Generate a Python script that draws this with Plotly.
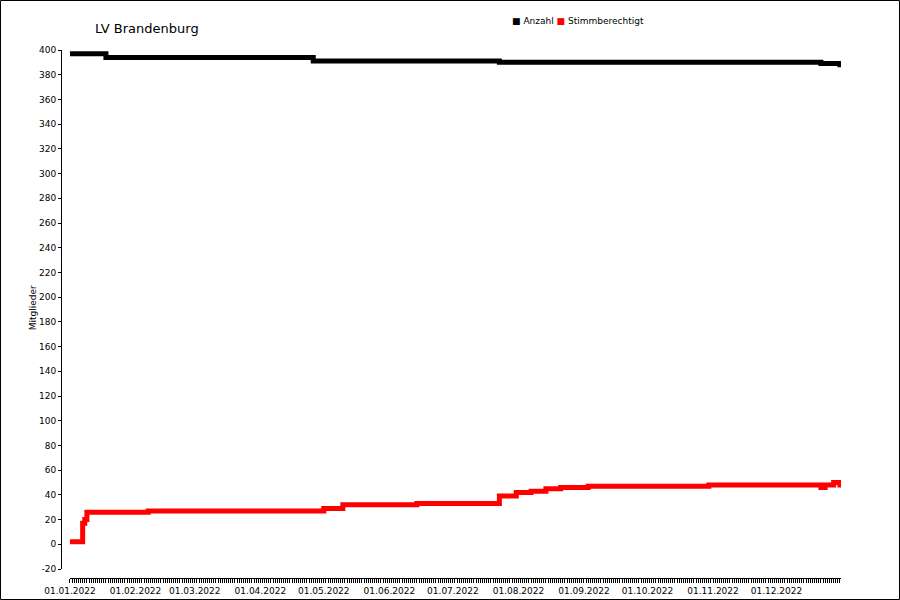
import plotly.graph_objects as go

# Anzahl (Mitglieder gesamt) - Stufen ab Datum
anzahl_dates = ["2022-01-01", "2022-01-18", "2022-04-26", "2022-07-23",
                "2022-12-22", "2022-12-30", "2022-12-31"]
anzahl_vals = [397, 394, 391, 390, 389, 389, 386]

# Stimmberechtigt
stimm_dates = ["2022-01-01", "2022-01-06", "2022-01-07", "2022-01-08", "2022-01-09",
               "2022-02-07", "2022-05-01", "2022-05-10", "2022-06-14", "2022-07-23",
               "2022-07-31", "2022-08-07", "2022-08-14", "2022-08-21", "2022-09-03",
               "2022-10-30", "2022-12-22", "2022-12-24", "2022-12-28", "2022-12-31"]
stimm_vals = [2, 2, 17, 20, 26,
              27, 29, 32, 33, 39,
              42, 43, 45, 46, 47,
              48, 46, 48, 50, 46]

series_names = ["Anzahl", "Stimmberechtigt"]
series_colors = ["black", "red"]

# y-Achse: -20 bis 400 in 20er Schritten (mit normalem Bindestrich)
y_ticks = list(range(-20, 401, 20))
y_ticktext = [str(v) for v in y_ticks]

font = "DejaVu Sans"

fig = go.Figure()
fig.add_trace(go.Scatter(x=anzahl_dates, y=anzahl_vals, mode="lines", line_shape="hv",
                         name=series_names[0], showlegend=False,
                         line=dict(color=series_colors[0], width=5)))
fig.add_trace(go.Scatter(x=stimm_dates, y=stimm_vals, mode="lines", line_shape="hv",
                         name=series_names[1], showlegend=False,
                         line=dict(color=series_colors[1], width=5)))

# kleine Legende oben als Text mit farbigen Quadraten
legend_text = " ".join(f'<span style="color:{c}">■</span> {n}'
                       for n, c in zip(series_names, series_colors))

fig.update_layout(
    width=900, height=600,
    margin=dict(l=61, r=59, t=50, b=22, autoexpand=False),
    paper_bgcolor="white", plot_bgcolor="white",
    font=dict(family=font, size=9, color="black"),
    title=dict(text="LV Brandenburg", x=95 / 900, xanchor="left", y=1 - 28 / 600,
               yanchor="middle", font=dict(size=13, family=font, color="black")),
    showlegend=False,
    xaxis=dict(type="date", domain=[0.0115, 1], anchor="free", position=0,
               range=["2022-01-01", "2022-12-31 12:00"],
               tick0="2022-01-01", dtick="M1", tickformat="%d.%m.%Y",
               ticks="outside", ticklen=4, tickcolor="black", tickwidth=1,
               minor=dict(dtick=86400000, ticks="outside", ticklen=4,
                          tickcolor="black", tickwidth=1, showgrid=False),
               showline=True, linecolor="black", linewidth=1,
               showgrid=False, zeroline=False, tickfont=dict(size=9)),
    yaxis=dict(domain=[0.017, 1], anchor="free", position=0,
               range=[-20, 400], tickmode="array", tickvals=y_ticks, ticktext=y_ticktext,
               ticks="outside", ticklen=3, tickcolor="black",
               showline=True, linecolor="black", linewidth=1,
               showgrid=False, zeroline=False, tickfont=dict(size=9)),
    annotations=[
        dict(text="Mitglieder", textangle=-90, xref="paper", yref="paper",
             x=-28 / 780, y=0.511, xanchor="center", yanchor="middle",
             showarrow=False, font=dict(size=9)),
        dict(text=legend_text, xref="paper", yref="paper",
             x=(510 - 61) / 780, y=(578 - 21) / 528, xanchor="left", yanchor="middle",
             showarrow=False, font=dict(size=9)),
    ],
    shapes=[dict(type="rect", xref="paper", yref="paper",
                 x0=-60.5 / 780, x1=1 + 58.5 / 780, y0=-21.5 / 528, y1=1 + 49.5 / 528,
                 line=dict(color="black", width=1))],
)

fig.write_html("out.html", config={"displayModeBar": False},
               post_script="document.body.style.margin='0';")
